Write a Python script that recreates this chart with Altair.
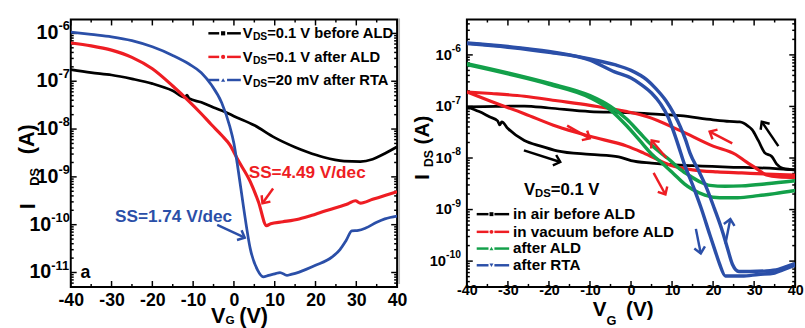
import altair as alt
import pandas as pd

FONT = "Liberation Sans"
BLACK, RED, GREEN, BLUE = "#000000", "#EE1D23", "#13A04A", "#2B4FA8"

# ---------------- panel (a): transfer curves ----------------
A_BLACK_VG = [-40, -35, -30, -25, -20, -15, -12, -11.5, -11, -8, -5, -2, 0, 5, 10, 15, 18, 22, 27, 31, 34, 37, 40]
A_BLACK_ID = [1.74e-7, 1.51e-7, 1.35e-7, 1.12e-7, 8.91e-8, 6.31e-8, 4.57e-8, 5.13e-8, 4.37e-8, 3.63e-8, 2.82e-8,
              2.24e-8, 1.86e-8, 1.20e-8, 6.61e-9, 4.17e-9, 3.31e-9, 2.57e-9, 2.14e-9, 2.09e-9, 2.34e-9, 3.09e-9, 4.27e-9]
A_RED_VG = [-40, -35, -30, -25, -20, -15, -11, -8, -5.5, -3, -1, 1, 4, 6, 8, 9, 12, 16, 20, 24, 28, 29.8, 31, 34, 37, 40]
A_RED_ID = [6.31e-7, 5.50e-7, 4.47e-7, 3.16e-7, 1.82e-7, 7.94e-8, 3.80e-8, 2.09e-8, 1.23e-8, 7.41e-9, 4.68e-9,
            2.24e-9, 7.94e-10, 3.02e-10, 9.55e-11, 1.05e-10, 1.15e-10, 1.32e-10, 1.66e-10, 2.14e-10, 2.75e-10,
            3.16e-10, 2.82e-10, 3.39e-10, 4.07e-10, 4.90e-10]
A_BLUE_VG = [-40, -35, -30, -25, -20, -15, -11, -8, -5.5, -3, -1, 0, 1, 2.4, 4, 5.8, 7.2, 8.5, 10, 11.3, 13, 14, 16,
             20, 24, 26, 27.5, 28.9, 30.5, 32.3, 35, 37, 40]
A_BLUE_ID = [1.07e-6, 9.55e-7, 8.51e-7, 7.08e-7, 5.25e-7, 3.47e-7, 2.29e-7, 1.51e-7, 8.32e-8, 3.55e-8, 1.12e-8,
             5.01e-9, 1.48e-9, 2.19e-10, 3.16e-11, 1.12e-11, 8.13e-12, 8.71e-12, 9.33e-12, 1.00e-11, 8.71e-12,
             9.12e-12, 1.02e-11, 1.41e-11, 2.09e-11, 3.02e-11, 4.68e-11, 7.41e-11, 7.59e-11, 8.51e-11, 1.12e-10,
             1.32e-10, 1.51e-10]
A_SAMPLES = ["before ALD", "after ALD", "after RTA"]
A_LEGEND = ["=0.1 V before ALD", "=0.1 V after ALD", "=20 mV after RTA"]
A_ARROW_S = ["after ALD", "after RTA"]
A_ARROW_V0 = [9.6, -4.1]
A_ARROW_I0 = [5.69e-10, 9.89e-11]
A_ARROW_V1 = [7.0, 2.65]
A_ARROW_I1 = [2.80e-10, 5.35e-11]
A_ARROW_ANG = [126, 25]

# ---------------- panel (b): hysteresis ----------------
B_AIR_FWD_VG = [-40, -37, -34.5, -32.5, -32, -31.5, -30, -26, -22, -18, -10, -3, 0, 5, 15, 25, 31, 36, 40]
B_AIR_FWD_ID = [9.77e-8, 7.94e-8, 6.31e-8, 5.25e-8, 4.37e-8, 5.01e-8, 3.72e-8, 2.19e-8, 1.70e-8, 1.38e-8, 1.17e-8,
                1.05e-8, 8.91e-9, 7.94e-9, 7.08e-9, 6.61e-9, 6.46e-9, 6.17e-9, 5.89e-9]
B_AIR_BWD_VG = [40, 37, 35.5, 34.3, 32.6, 31, 29.5, 28.5, 26.5, 24, 20, 12, 4, -1, -10, -20, -26, -33, -40]
B_AIR_BWD_ID = [5.89e-9, 6.31e-9, 7.59e-9, 1.07e-8, 1.26e-8, 2.19e-8, 3.55e-8, 4.17e-8, 5.01e-8, 5.13e-8, 5.50e-8,
                6.61e-8, 7.24e-8, 7.59e-8, 7.94e-8, 9.33e-8, 1.02e-7, 1.00e-7, 9.77e-8]
B_VAC_FWD_VG = [-40, -34.5, -26, -18, -10, -1, 3, 9.6, 15, 21, 27, 33, 40]
B_VAC_FWD_ID = [1.91e-7, 1.29e-7, 7.24e-8, 4.07e-8, 2.63e-8, 1.70e-8, 1.26e-8, 7.24e-9, 5.89e-9, 5.37e-9, 5.13e-9,
                4.90e-9, 4.68e-9]
B_VAC_BWD_VG = [40, 36, 33, 30.5, 28, 25.5, 20, 12, 4, -1, -10, -18, -26, -34, -40]
B_VAC_BWD_ID = [4.17e-9, 4.27e-9, 4.68e-9, 6.31e-9, 8.51e-9, 1.17e-8, 1.70e-8, 3.39e-8, 6.31e-8, 7.94e-8, 1.05e-7,
                1.29e-7, 1.58e-7, 1.78e-7, 1.91e-7]
B_ALD_FWD_VG = [-40, -30, -20, -10, -5, -1, 2, 5, 8, 10.3, 13, 15, 18, 21.6, 26, 31, 35, 40]
B_ALD_FWD_ID = [6.46e-7, 4.27e-7, 2.69e-7, 1.48e-7, 8.51e-8, 4.17e-8, 2.24e-8, 1.20e-8, 7.41e-9, 5.01e-9, 3.16e-9,
                2.45e-9, 1.91e-9, 1.70e-9, 1.70e-9, 1.86e-9, 2.04e-9, 2.34e-9]
B_ALD_BWD_VG = [40, 33, 27, 23, 19.2, 17, 14.4, 12, 9.6, 8, 5, 2, -1, -5, -10, -20, -30, -40]
B_ALD_BWD_ID = [3.63e-9, 3.16e-9, 2.88e-9, 2.82e-9, 2.95e-9, 3.39e-9, 4.47e-9, 6.03e-9, 8.91e-9, 1.12e-8, 1.78e-8,
                3.16e-8, 5.62e-8, 1.00e-7, 1.62e-7, 2.82e-7, 4.47e-7, 6.76e-7]
B_RTA_FWD_VG = [-40, -30, -20, -10, -4, 0, 2.4, 5, 7.2, 9, 10.3, 11.5, 13, 15.1, 17, 19.2, 20.5, 21.6, 23, 27, 31,
                35, 37, 40]
B_RTA_FWD_ID = [1.66e-6, 1.41e-6, 1.12e-6, 7.94e-7, 4.68e-7, 3.55e-7, 2.69e-7, 1.82e-7, 1.12e-7, 6.31e-8, 3.39e-8,
                1.78e-8, 7.59e-9, 2.88e-9, 1.12e-9, 3.24e-10, 1.58e-10, 8.71e-11, 5.13e-11, 5.13e-11, 5.50e-11,
                5.89e-11, 6.76e-11, 8.32e-11]
B_RTA_BWD_VG = [40, 38, 35.9, 33, 29, 26.3, 24.7, 23.5, 22.3, 20.3, 18.2, 16.3, 14.4, 13.3, 12, 10.5, 8.6, 6, 3.8,
                0, -4, -10, -20, -30, -40]
B_RTA_BWD_ID = [8.91e-11, 7.94e-11, 6.92e-11, 6.46e-11, 6.31e-11, 6.31e-11, 8.71e-11, 1.78e-10, 3.72e-10, 1.05e-9,
                2.88e-9, 6.03e-9, 1.23e-8, 2.24e-8, 4.07e-8, 7.08e-8, 1.26e-7, 2.24e-7, 3.31e-7, 5.01e-7, 6.46e-7,
                8.32e-7, 1.17e-6, 1.45e-6, 1.70e-6]
B_SAMPLES = ["in air before ALD", "in vacuum before ALD", "after ALD", "after RTA"]
B_ARROW_S = ["in air before ALD", "in air before ALD", "in vacuum before ALD", "in vacuum before ALD",
             "after ALD", "after ALD", "after RTA", "after RTA"]
B_ARROW_V0 = [-26.1, 35.9, -15.57, 24.67, 8.62, 5.5, 15.8, 23.0]
B_ARROW_I0 = [1.41e-8, 1.70e-8, 4.24e-8, 1.92e-8, 1.0e-8, 5.15e-9, 4.22e-10, 2.18e-10]
B_ARROW_V1 = [-17.25, 31.86, -10.06, 19.16, 5.03, 8.38, 17.0, 24.2]
B_ARROW_I1 = [8.36e-9, 5.05e-8, 2.40e-8, 3.25e-8, 2.19e-8, 1.96e-9, 1.41e-10, 6.55e-10]
B_ARROW_ANG = [18, 236, 29.5, 207.5, 232, 61, 79, 281]

X_MAJOR = [-40, -30, -20, -10, 0, 10, 20, 30, 40]
X_MINOR = [-35, -25, -15, -5, 5, 15, 25, 35]

ONE = pd.DataFrame({"k": [0]})
CHEV = "M -1 -0.9 L 0 0 L -1 0.9"


def curve(v, i):
    return pd.DataFrame({"VG": v, "ID": i})


def txt(s, x, y, size, color=BLACK, align="left", angle=None):
    kw = dict(text=s, font=FONT, fontSize=size, fontWeight="bold", color=color, align=align, baseline="middle")
    if angle is not None:
        kw["angle"] = angle
    return alt.Chart(ONE).mark_text(**kw).encode(x=alt.value(x), y=alt.value(y))


def seg(x0, x1, y, color, w=2.5):
    return alt.Chart(ONE).mark_rule(color=color, strokeWidth=w).encode(
        x=alt.value(x0), x2=alt.value(x1), y=alt.value(y))


def sym(x, y, shape, color, size):
    return alt.Chart(ONE).mark_point(shape=shape, color=color, filled=True, size=size, opacity=1).encode(
        x=alt.value(x), y=alt.value(y))


def frame_ticks(ymaj, ymin, xs, ys, xax, W, H):
    layers = []
    for vals, L in ((X_MAJOR, 6), (X_MINOR, 3)):
        d = pd.DataFrame({"t": vals})
        for y0, y1 in ((H, H - L), (0, L)):
            layers.append(alt.Chart(d).mark_rule(color=BLACK, strokeWidth=1.5).encode(
                x=alt.X("t:Q", scale=xs, axis=xax), y=alt.value(y0), y2=alt.value(y1)))
    for vals, L in ((ymaj, 6), (ymin, 3)):
        d = pd.DataFrame({"t": vals})
        for x0, x1 in ((0, L), (W, W - L)):
            layers.append(alt.Chart(d).mark_rule(color=BLACK, strokeWidth=1.5).encode(
                y=alt.Y("t:Q", scale=ys, axis=None), x=alt.value(x0), x2=alt.value(x1)))
    return layers


def ylabels(vals, exps, ys, fs, fe, pad, dy, w2, w3):
    d = pd.DataFrame({"val": vals, "exp": exps})
    layers = []
    for n, w in ((2, w2), (3, w3)):
        base = alt.Chart(d).transform_filter(f"length(datum.exp) == {n}")
        layers.append(base.mark_text(text="10", align="right", baseline="middle", font=FONT, fontSize=fs,
                                     fontWeight="bold", color=BLACK).encode(
            x=alt.value(-pad - w), y=alt.Y("val:Q", scale=ys, axis=None)))
        layers.append(base.mark_text(align="left", baseline="middle", dy=dy, font=FONT, fontSize=fe,
                                     fontWeight="bold", color=BLACK).encode(
            x=alt.value(-pad - w), y=alt.Y("val:Q", scale=ys, axis=None), text="exp:N"))
    return layers


def arrows(df, xs, ys, xax, cs):
    shaft = alt.Chart(df).mark_rule(strokeWidth=2.5).encode(
        x=alt.X("v0:Q", scale=xs, axis=xax), y=alt.Y("i0:Q", scale=ys, axis=None),
        x2="v1:Q", y2="i1:Q", color=alt.Color("s:N", scale=cs, legend=None))
    head = alt.Chart(df).mark_point(shape=CHEV, filled=False, strokeWidth=2.5, size=150, opacity=1,
                                    strokeJoin="miter").encode(
        x=alt.X("v1:Q", scale=xs, axis=xax), y=alt.Y("i1:Q", scale=ys, axis=None),
        angle=alt.Angle("ang:Q", scale=None), color=alt.Color("s:N", scale=cs, legend=None))
    return [shaft, head]


def lines(df, color, xs, ys, xax, w):
    return alt.Chart(df).mark_line(color=color, strokeWidth=w, clip=True, interpolate="monotone").encode(
        x=alt.X("VG:Q", scale=xs, axis=xax), y=alt.Y("ID:Q", scale=ys, axis=None))


# ================= panel (a) =================
AW, AH = 332, 272
xs_a = alt.Scale(domain=[-40, 40], nice=False, zero=False)
ys_a = alt.Scale(type="log", domain=[5.0e-12, 1.95e-6], nice=False)
ax_a = alt.Axis(values=X_MAJOR, labelFont=FONT, labelFontSize=18, labelFontWeight="bold", labelColor=BLACK,
                labelPadding=5, ticks=False, domain=False, grid=False, title=None, labelFlush=False,
                labelOverlap=False, labelExpr="replace(datum.label, '\u2212', '-')")
cs_a = alt.Scale(domain=A_SAMPLES, range=[BLACK, RED, BLUE])
A_YMAJ = [1e-11, 1e-10, 1e-9, 1e-8, 1e-7, 1e-6]
A_YEXP = ["-11", "-10", "-9", "-8", "-7", "-6"]
A_YMIN = [k * 10.0 ** e for e in range(-12, -5) for k in range(2, 10) if 5.0e-12 <= k * 10.0 ** e <= 1.95e-6]

a_layers = frame_ticks(A_YMAJ, A_YMIN, xs_a, ys_a, ax_a, AW, AH)
a_layers += [
    lines(curve(A_BLACK_VG, A_BLACK_ID), BLACK, xs_a, ys_a, ax_a, 2.8),
    lines(curve(A_RED_VG, A_RED_ID), RED, xs_a, ys_a, ax_a, 3.2),
    lines(curve(A_BLUE_VG, A_BLUE_ID), BLUE, xs_a, ys_a, ax_a, 2.8),
]
a_layers += ylabels(A_YMAJ, A_YEXP, ys_a, 20, 13, 1, -7, 11.6, 18.8)
a_layers += arrows(pd.DataFrame({"s": A_ARROW_S, "v0": A_ARROW_V0, "i0": A_ARROW_I0, "v1": A_ARROW_V1,
                                 "i1": A_ARROW_I1, "ang": A_ARROW_ANG}), xs_a, ys_a, ax_a, cs_a)
a_layers += [
    txt("SS=4.49 V/dec", 181, 156, 17.5, RED),
    txt("SS=1.74 V/dec", 45, 201, 17.5, BLUE),
    txt("a", 10, 258, 18),
    # y title
    txt("I", -43, 193, 22, angle=270),
    txt("DS", -36, 169, 13, angle=270),
    txt("(A)", -44, 137, 22, angle=270),
    # x title
    txt("V", 150, 302, 22, align="center"),
    txt("G", 162, 306, 12, align="center"),
    txt("(V)", 186, 302, 22, align="center"),
]
a_rows = [14, 38, 61.5]
a_marks = ["square", "circle", "triangle-up"]
for row, col, lab, mk in zip(a_rows, [BLACK, RED, BLUE], A_LEGEND, a_marks):
    a_layers += [
        seg(140, 151, row, col), seg(159, 173, row, col), sym(155, row, mk, col, 18),
        txt("V", 175, row, 15), txt("DS", 185.3, row + 4, 10.5), txt(lab, 199.8, row, 15),
    ]
panel_a = alt.layer(*a_layers).properties(width=AW, height=AH)

# ================= panel (b) =================
BW, BH = 334, 272
xs_b = alt.Scale(domain=[-40, 40], nice=False, zero=False)
ys_b = alt.Scale(type="log", domain=[3.16e-11, 4.85e-6], nice=False)
ax_b = alt.Axis(values=X_MAJOR, labelFont=FONT, labelFontSize=14.5, labelFontWeight="bold", labelColor=BLACK,
                labelPadding=-3, ticks=False, domain=False, grid=False, title=None, labelFlush=False,
                labelOverlap=False, labelExpr="replace(datum.label, '\u2212', '-')")
cs_b = alt.Scale(domain=B_SAMPLES, range=[BLACK, RED, GREEN, BLUE])
B_YMAJ = [1e-10, 1e-9, 1e-8, 1e-7, 1e-6]
B_YEXP = ["-10", "-9", "-8", "-7", "-6"]
B_YMIN = [k * 10.0 ** e for e in range(-11, -5) for k in range(2, 10) if 3.16e-11 <= k * 10.0 ** e <= 4.85e-6]

b_layers = [alt.Chart(ONE).mark_rule(color="#b4b4b4", strokeWidth=2).encode(
    x=alt.value(-69), y=alt.value(-1), y2=alt.value(269))]
b_layers += frame_ticks(B_YMAJ, B_YMIN, xs_b, ys_b, ax_b, BW, BH)
b_layers += [
    lines(curve(B_AIR_FWD_VG, B_AIR_FWD_ID), BLACK, xs_b, ys_b, ax_b, 2.8),
    lines(curve(B_AIR_BWD_VG, B_AIR_BWD_ID), BLACK, xs_b, ys_b, ax_b, 2.8),
    lines(curve(B_VAC_FWD_VG, B_VAC_FWD_ID), RED, xs_b, ys_b, ax_b, 3.2),
    lines(curve(B_VAC_BWD_VG, B_VAC_BWD_ID), RED, xs_b, ys_b, ax_b, 3.2),
    lines(curve(B_ALD_FWD_VG, B_ALD_FWD_ID), GREEN, xs_b, ys_b, ax_b, 3.5),
    lines(curve(B_ALD_BWD_VG, B_ALD_BWD_ID), GREEN, xs_b, ys_b, ax_b, 3.5),
    lines(curve(B_RTA_FWD_VG, B_RTA_FWD_ID), BLUE, xs_b, ys_b, ax_b, 3.5),
    lines(curve(B_RTA_BWD_VG, B_RTA_BWD_ID), BLUE, xs_b, ys_b, ax_b, 3.5),
]
b_layers += ylabels(B_YMAJ, B_YEXP, ys_b, 15, 10.5, 6, -6, 9.3, 15.2)
b_layers += arrows(pd.DataFrame({"s": B_ARROW_S, "v0": B_ARROW_V0, "i0": B_ARROW_I0, "v1": B_ARROW_V1,
                                 "i1": B_ARROW_I1, "ang": B_ARROW_ANG}), xs_b, ys_b, ax_b, cs_b)
b_layers += [
    txt("V", 58, 173, 17), txt("DS", 69.3, 178, 11.5), txt("=0.1 V", 85.3, 173, 17),
    txt("I", -45, 163, 21, angle=270),
    txt("DS", -38, 150, 12.5, angle=270),
    txt("(A)", -45, 127, 21, angle=270),
    txt("V", 135, 296, 21, align="center"),
    txt("G", 147, 307, 13, align="center"),
    txt("(V)", 176, 296, 21, align="center"),
]
b_rows = [198, 216, 233, 250]
b_marks = ["square", "circle", "triangle-up", "triangle-down"]
for row, col, lab, mk in zip(b_rows, [BLACK, RED, GREEN, BLUE], B_SAMPLES, b_marks):
    b_layers += [
        seg(10, 22, row, col), seg(28, 43, row, col), sym(25, row, mk, col, 16),
        txt(lab, 47, row, 15.5),
    ]
panel_b = alt.layer(*b_layers).properties(width=BW, height=BH)

chart = alt.hconcat(panel_a, panel_b, spacing=71, bounds="flush").properties(
    padding={"left": 16, "top": 14, "right": 0, "bottom": 0}
).configure_view(stroke=BLACK, strokeWidth=2)

chart.save("out.html", embed_options={"renderer": "svg", "actions": False})
